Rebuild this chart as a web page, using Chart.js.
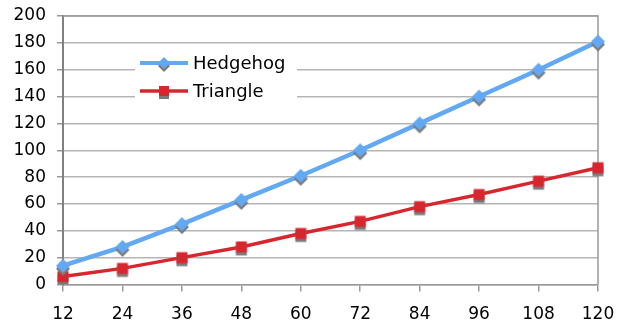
<!DOCTYPE html>
<html>
<head>
<meta charset="utf-8">
<script src="https://cdn.jsdelivr.net/npm/chart.js@4/dist/chart.umd.min.js"></script>
<style>
  html, body { margin: 0; padding: 0; background: #fff; }
  #wrap { width: 623px; height: 328px; position: relative; }
</style>
</head>
<body>
<div id="wrap"><canvas id="c" width="623" height="328"></canvas></div>
<script>
// Category labels along the x axis
const categories = ['12', '24', '36', '48', '60', '72', '84', '96', '108', '120'];
// Series values
const hedgehog = [14, 28, 45, 63, 81, 100, 120, 140, 160, 181];
const triangle = [6, 12, 20, 28, 38, 47, 58, 67, 77, 87];
const seriesNames = ['Hedgehog', 'Triangle'];
// Value axis range
const yMin = 0, yMax = 200, yStep = 20;

const FONT = 'DejaVu Sans, Verdana, sans-serif';
const BLUE = '#62a8f2';
const RED = '#d8262e';
const SHADOW = '#7b7b7b';

// Draws a marker shape (diamond or square) centred on cx, cy
function shapePath(ctx, shape, cx, cy, r) {
  ctx.beginPath();
  if (shape === 'diamond') {
    ctx.moveTo(cx, cy - r); ctx.lineTo(cx + r, cy); ctx.lineTo(cx, cy + r); ctx.lineTo(cx - r, cy);
  } else {
    ctx.rect(cx - r, cy - r, 2 * r, 2 * r);
  }
  ctx.closePath();
}

// Marker image: grey drop shadow under a coloured shape, optionally with a line segment through it
function markerCanvas(shape, color, r, lineLen, lineWidth) {
  const w = lineLen ? lineLen : 24, h = 24;
  const cv = document.createElement('canvas');
  cv.width = w; cv.height = h;
  const ctx = cv.getContext('2d');
  const cx = w / 2, cy = h / 2;
  if (lineLen) {
    ctx.strokeStyle = color; ctx.lineWidth = lineWidth;
    ctx.beginPath(); ctx.moveTo(0, cy); ctx.lineTo(w, cy); ctx.stroke();
  }
  ctx.fillStyle = SHADOW;
  shapePath(ctx, shape, cx, cy + 3, r); ctx.fill();
  ctx.fillStyle = color;
  shapePath(ctx, shape, cx, cy, r); ctx.fill();
  return cv;
}

const blueMarker = markerCanvas('diamond', BLUE, 7);
const redMarker = markerCanvas('square', RED, 5.5);
const blueLegend = markerCanvas('diamond', BLUE, 6, 48, 4);
const redLegend = markerCanvas('square', RED, 5, 48, 3.5);

// Plot frame: top and right edges
const framePlugin = {
  id: 'frame',
  beforeDatasetsDraw(chart) {
    const { ctx, chartArea: a } = chart;
    ctx.save();
    ctx.strokeStyle = '#999';
    ctx.lineWidth = 1.5;
    ctx.beginPath();
    ctx.moveTo(a.left, a.top); ctx.lineTo(a.right, a.top); ctx.lineTo(a.right, a.bottom);
    ctx.stroke();
    ctx.restore();
  }
};

// Legend placed inside the plot area with a white backing
const innerLegend = {
  id: 'innerLegend',
  afterDatasetsDraw(chart) {
    const { ctx } = chart;
    ctx.save();
    ctx.fillStyle = '#fff';
    ctx.fillRect(135, 50, 162, 58);
    const imgs = [blueLegend, redLegend];
    const ys = [63, 91];
    ctx.font = '18px ' + FONT;
    ctx.fillStyle = '#000';
    ctx.textBaseline = 'middle';
    ctx.textAlign = 'left';
    chart.data.datasets.forEach((ds, i) => {
      const img = imgs[i];
      ctx.drawImage(img, 140, ys[i] - img.height / 2);
      ctx.fillText(ds.label, 193, ys[i] + 1);
    });
    ctx.restore();
  }
};

// Let the outer layout padding alone decide the plot edges
function noEdgePadding(s) {
  s.paddingTop = 0; s.paddingBottom = 0; s.paddingLeft = 0; s.paddingRight = 0;
}

new Chart(document.getElementById('c'), {
  type: 'line',
  data: {
    labels: categories,
    datasets: [
      {
        label: seriesNames[0], data: hedgehog,
        borderColor: BLUE, backgroundColor: BLUE, borderWidth: 4.5,
        pointStyle: blueMarker, pointRadius: 7, tension: 0
      },
      {
        label: seriesNames[1], data: triangle,
        borderColor: RED, backgroundColor: RED, borderWidth: 3.5,
        pointStyle: redMarker, pointRadius: 6, tension: 0
      }
    ]
  },
  options: {
    responsive: false,
    animation: false,
    events: [],
    layout: { padding: { top: 16, right: 25, left: 0, bottom: 0 } },
    plugins: { legend: { display: false }, tooltip: { enabled: false } },
    scales: {
      x: {
        offset: false,
        grid: { drawOnChartArea: false, tickLength: 7, color: '#999', lineWidth: 1.5 },
        border: { color: '#999', width: 1.5 },
        ticks: { color: '#000', font: { family: FONT, size: 17 }, padding: 13, maxRotation: 0, autoSkip: false },
        afterFit(s) { s.height = 43.5; noEdgePadding(s); }
      },
      y: {
        min: yMin, max: yMax,
        grid: { color: '#b5b5b5', lineWidth: 1.5, tickLength: 6, tickColor: '#999' },
        border: { color: '#808080', width: 2 },
        ticks: { stepSize: yStep, color: '#000', font: { family: FONT, size: 17 }, padding: 11 },
        afterFit(s) { s.width = 63; noEdgePadding(s); }
      }
    }
  },
  plugins: [framePlugin, innerLegend]
});
</script>
</body>
</html>
